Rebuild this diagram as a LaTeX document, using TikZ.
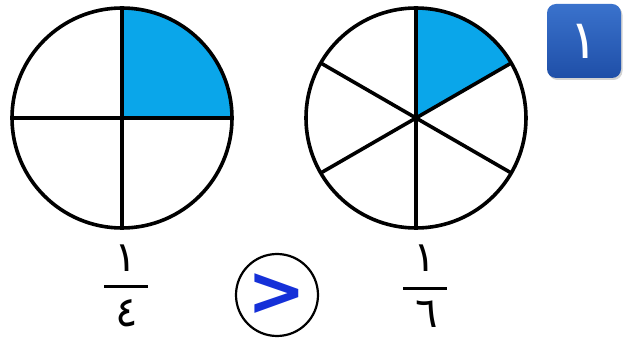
\documentclass[tikz,border=0pt]{standalone}
\usepackage{fontspec}
\usepackage{tikz}
\usetikzlibrary{positioning,shadows}
\newfontfamily\arabicfont[Script=Arabic]{DejaVu Sans}
\newfontfamily\signofont{DejaVu Sans Bold}
\definecolor{celeste}{HTML}{0AA6EA}
\definecolor{azulplaca}{HTML}{1F4FA8}
\definecolor{azulclaro}{HTML}{3A72CC}
\definecolor{azulsigno}{HTML}{1530D8}

\begin{document}
\begin{tikzpicture}[x=1pt,y=1pt,
      node distance=5pt,
      linea/.style={line width=3.6pt,draw=black},
      cifra/.style={font=\arabicfont\fontsize{42}{42}\selectfont,inner sep=0pt,anchor=base},
      raya/.style={fill=black,inner sep=0pt,minimum width=44pt,minimum height=3pt},
      placa/.style={rounded corners=9pt,minimum width=74pt,minimum height=74pt,
                    top color=azulclaro,bottom color=azulplaca,
                    drop shadow={opacity=0.35,shadow xshift=1.5pt,shadow yshift=-2pt},
                    text=white,font=\arabicfont\fontsize{54}{54}\selectfont},
      signo/.style={circle,draw=black,line width=2.2pt,minimum size=82pt,
                    text=azulsigno,font=\signofont\fontsize{70}{70}\selectfont}]
    \useasboundingbox (0,0) rectangle (630,340);
    % circulo en cuartos
    \coordinate (c1) at (122,222);
    \fill[celeste] (c1) -- ++(0:110) arc[start angle=0,end angle=90,radius=110] -- cycle;
    \foreach \a in {0,90,180,270}
      \draw[linea] (c1) -- ++(\a:110);
    \draw[linea] (c1) circle[radius=110];
    % circulo en sextos
    \coordinate (c2) at (416,222);
    \fill[celeste] (c2) -- ++(30:110) arc[start angle=30,end angle=90,radius=110] -- cycle;
    \foreach \a in {30,90,...,330}
      \draw[linea] (c2) -- ++(\a:110);
    \draw[linea] (c2) circle[radius=110];
    % fracciones
    \node[raya] (barra1) at (126,53) {};
    \node[cifra] (num1) at (126,68) {١};
    \node[cifra] (den1) at (127,13) {٤};
    \node[raya] (barra2) at (425,51.5) {};
    \node[cifra] (num2) at (425,68) {١};
    \node[cifra] (den2) at (427,12) {٦};
    \node[signo] (comp) at (277,45) {>};
    \node[placa] (numero) at (584,299) {١};
  \end{tikzpicture}
\end{document}
